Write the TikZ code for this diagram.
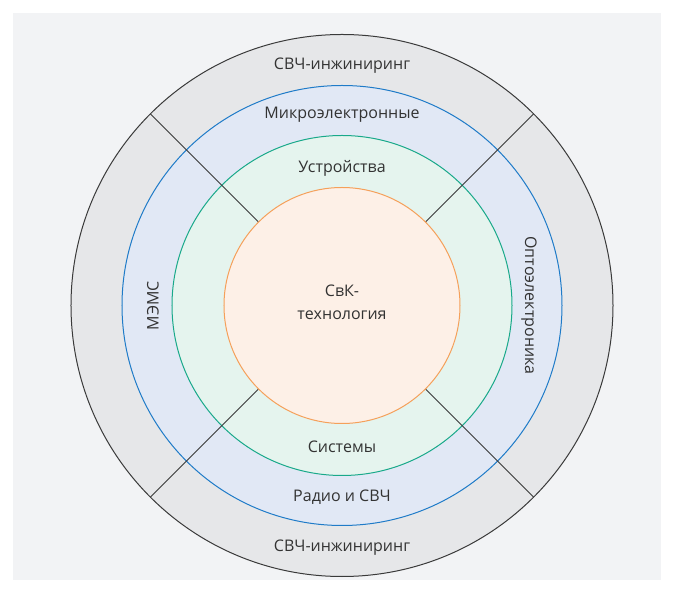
\documentclass[tikz,border=0pt]{standalone}
\usepackage{fontspec}
\setmainfont{Open Sans}
\definecolor{bggray}{HTML}{F2F3F5}
\definecolor{ringgray}{HTML}{E6E7E9}
\definecolor{ringblue}{HTML}{E1E8F5}
\definecolor{lineblue}{HTML}{1F7BC8}
\definecolor{ringgreen}{HTML}{E5F4EE}
\definecolor{linegreen}{HTML}{19A98A}
\definecolor{ringorange}{HTML}{FDF0E7}
\definecolor{lineorange}{HTML}{F5A05A}
\definecolor{linedark}{HTML}{3A3A3A}
\definecolor{txtgray}{HTML}{333333}

\begin{document}
\begin{tikzpicture}[x=1pt,y=1pt,
  label/.style={text=txtgray, font=\fontsize{16}{23}\selectfont, inner sep=0pt}]
  \useasboundingbox (-342,305.5) rectangle (332,-287.5);

  % Draw the background
  \fill[bggray] (-329,292.5) rectangle (319,-274.5);

  \coordinate (c) at (0,0);

  % Draw the rings
  \filldraw[fill=ringgray, draw=linedark, line width=1pt] (c) circle[radius=271pt];
  \filldraw[fill=ringblue, draw=lineblue, line width=1pt] (c) circle[radius=220pt];
  \filldraw[fill=ringgreen, draw=linegreen, line width=1pt] (c) circle[radius=170pt];

  % Draw the dividers
  \foreach \a in {45,135,225,315}
    \draw[linedark, line width=1pt] (c) ++(\a:118pt) -- ++(\a:153pt);

  \filldraw[fill=ringorange, draw=lineorange, line width=1pt] (c) circle[radius=118pt];

  % Labels
  \node[label] (svchtop) at (0,239.5) {СВЧ-инжиниринг};
  \node[label] (micro) at (0,190.5) {Микроэлектронные};
  \node[label] (ustr) at (0,137.5) {Устройства};

  \node[label, align=center] (svk) at (0,3) {СвК-\\технология};

  \node[label] (sist) at (0,-141.5) {Системы};
  \node[label] (radio) at (0,-192) {Радио и СВЧ};
  \node[label] (svchbot) at (0,-242) {СВЧ-инжиниринг};

  \node[label, rotate=90] (mems) at (-189,0) {МЭМС};
  \node[label, rotate=-90] (opto) at (187,0) {Оптоэлектроника};

\end{tikzpicture}
\end{document}
